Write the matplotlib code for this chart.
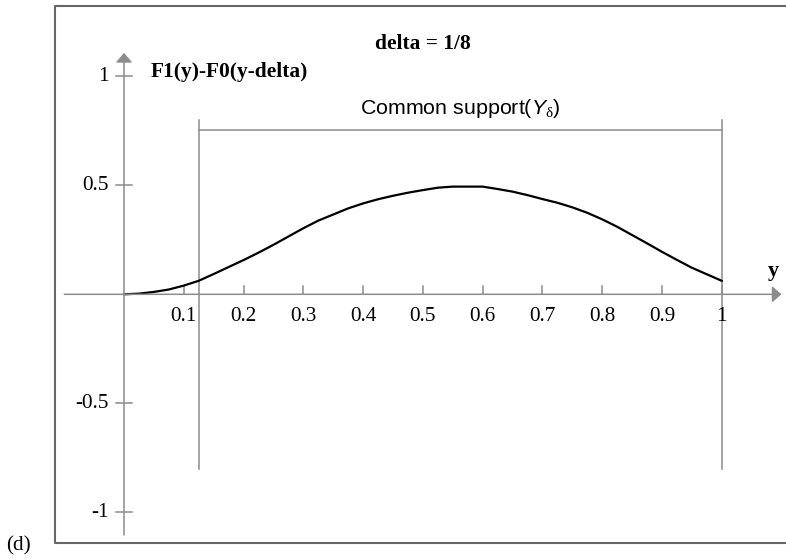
import matplotlib
matplotlib.use("Agg")
import matplotlib.pyplot as plt
import numpy as np

plt.rcParams['mathtext.fontset'] = 'custom'
plt.rcParams['mathtext.rm'] = 'Liberation Serif'
plt.rcParams['mathtext.it'] = 'Liberation Sans:italic'

# curve: F1(y)-F0(y-delta), delta = 1/8
ys = [0, 0.025, 0.05, 0.075, 0.1, 0.125, 0.15, 0.175, 0.2, 0.225, 0.25,
      0.275, 0.3, 0.325, 0.35, 0.375, 0.4, 0.425, 0.45, 0.475, 0.5, 0.525,
      0.55, 0.575, 0.6, 0.625, 0.65, 0.675, 0.7, 0.725, 0.75, 0.775, 0.8,
      0.825, 0.85, 0.875, 0.9, 0.925, 0.95, 0.975, 1.0]
diff = [0, 0.003, 0.011, 0.022, 0.04, 0.062, 0.093, 0.125, 0.157, 0.191,
        0.227, 0.265, 0.303, 0.338, 0.366, 0.394, 0.417, 0.436, 0.452, 0.466,
        0.478, 0.489, 0.494, 0.494, 0.494, 0.483, 0.471, 0.455, 0.437, 0.42,
        0.399, 0.374, 0.344, 0.31, 0.272, 0.234, 0.195, 0.158, 0.122, 0.092,
        0.062]

xticks = [0.1, 0.2, 0.3, 0.4, 0.5, 0.6, 0.7, 0.8, 0.9, 1]
xlabels = ['0.1', '0.2', '0.3', '0.4', '0.5', '0.6', '0.7', '0.8', '0.9', '1']
yticks = [1, 0.5, -0.5, -1]
ylabels = ['1', '0.5', '-0.5', '-1']

support = [0.125, 1.0]

serif = 'Liberation Serif'
grey = '#8c8c8c'

fig = plt.figure(figsize=(7.86, 5.58), dpi=100)
ax = fig.add_axes([0, 0, 1, 1])
ax.set_xlim(-0.2075, 1.1076)
ax.set_ylim(-1.2096, 1.35)
ax.axis('off')

# outer frame (left, top, bottom)
ax.plot([1.0, 0.070, 0.070, 1.0], [0.989, 0.989, 0.027, 0.027],
        transform=ax.transAxes, color='#666666', lw=1.5, clip_on=False)

# axes with arrows
arr = dict(arrowstyle='-|>,head_length=0.4,head_width=0.35', color=grey,
           lw=1.1, mutation_scale=14, shrinkA=0, shrinkB=0)
ax.annotate('', xy=(1.1, 0), xytext=(-0.1, 0), arrowprops=arr)
ax.annotate('', xy=(0, 1.107), xytext=(0, -1.104), arrowprops=arr)

for t, lab in zip(xticks, xlabels):
    ax.plot([t, t], [0, 0.036], color=grey, lw=1.1)
    ax.text(t, -0.1, lab, ha='center', va='center', family=serif, fontsize=15.3)
for t, lab in zip(yticks, ylabels):
    ax.plot([-0.013, 0.013], [t, t], color=grey, lw=1.1)
    ax.text(-0.026, t, lab, ha='right', va='center', family=serif, fontsize=15.3)

# common support bracket
ax.plot([support[0], support[0]], [-0.8, 0.8], color=grey, lw=1.1)
ax.plot([support[1], support[1]], [-0.8, 0.8], color=grey, lw=1.1)
ax.plot(support, [0.754, 0.754], color=grey, lw=1.1)
ax.text(np.mean(support), 0.827, r'Common support($Y_{\mathrm{\delta}}$)',
        ha='center', va='baseline', family='Liberation Sans', fontsize=15.4)

# the curve
ax.plot(ys, diff, color='black', lw=1.6)

ax.text(0.50, 1.15, 'delta = 1/8', ha='center', va='center', family=serif,
        fontsize=15.4, fontweight='bold')
ax.text(0.044, 1.02, 'F1(y)-F0(y-delta)', ha='left', va='center', family=serif,
        fontsize=15.4, fontweight='bold')
ax.text(1.087, 0.106, 'y', ha='center', va='center', family=serif,
        fontsize=16, fontweight='bold')
ax.text(-0.177, -1.155, '(d)', ha='center', va='center', family=serif,
        fontsize=15.3)

fig.savefig('out.png', dpi=100)
